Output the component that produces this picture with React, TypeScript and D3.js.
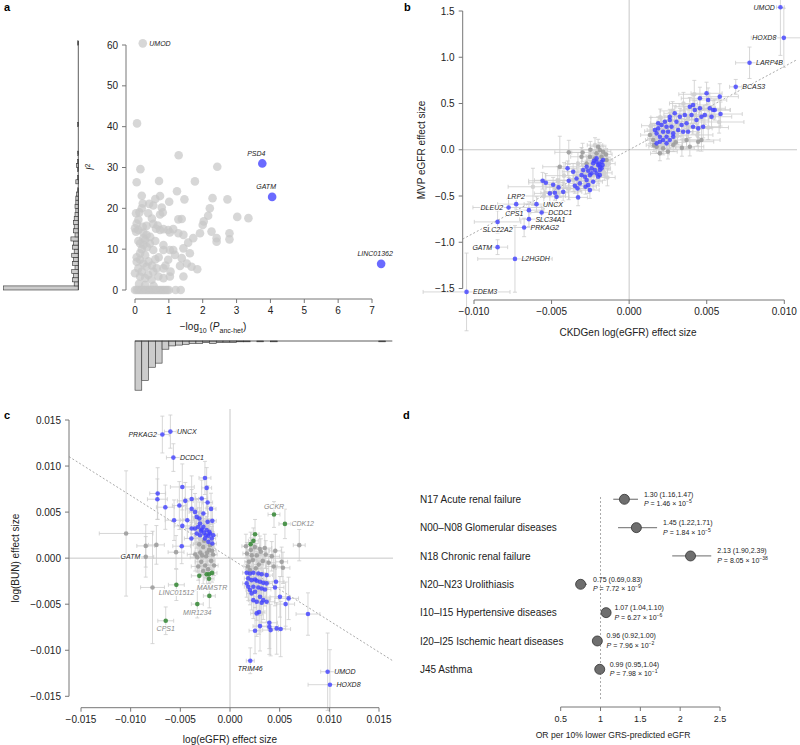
import React, { useEffect } from 'react';
import * as d3 from 'd3';

const FONT = '"Liberation Sans", Arial, Helvetica, sans-serif';
const BLUE = '#4040ff';
const GREEN = '#3d8c3d';
const DGREY = '#9a9a9a';
const LGREY = '#d0d0d0';
const EB = '#cdcdcd';
const AX = '#777';
const TXT = '#222';

// ---------------- Panel a data ----------------
const aGrey: [number, number][] = [
  [0.06,40.8],[1.29,33],[0.16,29.6],[2.43,30.2],[0.05,26.4],[0.71,26.7],[1.77,26.6],[0.2,23.1],[0.74,23],[1.24,24.2],
  [0.6,22.3],[1.46,22.2],[2.29,22.5],[2.73,22.2],[1.01,21.6],[0.23,21.2],[0.42,21.1],[0.54,20.7],[0.79,20.2],[0.2,20.0],
  [0.03,18.8],[0.13,19.0],[0.39,18.8],[0.82,19.0],[0.74,18.5],[2.21,20.0],[2.16,18.2],[3.02,17.9],[3.35,17.6],[2.03,16.8],
  [2.0,15.9],[1.38,17.4],[1.28,17.3],[0.10,17.2],[0.05,16.3],[0.0,15.1],[0.10,14.7],[0.03,14.3],[0.23,15.5],[0.34,15.7],
  [0.54,16.2],[0.67,15.8],[0.62,15.0],[0.74,14.7],[0.84,14.9],[0.98,14.7],[1.13,14.9],[1.03,14.1],[1.28,13.9],[1.43,13.5],
  [1.57,11.6],[1.72,12.7],[1.92,13.9],[2.26,14.3],[2.41,12.7],[2.41,11.8],[2.79,13.9],[2.79,12.4],[0.34,13.5],[0.25,12.7],
  [0.30,12.3],[0.15,11.4],[0.25,11.0],[0.44,11.4],[0.54,9.8],[0.84,11.0],[0.84,9.8],[1.03,9.8],[1.13,9.8],[1.18,8.6],
  [0.98,7.4],[1.43,10.2],[1.62,9.0],[1.38,7.8],[1.53,6.5],[1.67,5.7],[1.84,5.1],[1.33,5.9],[0.05,6.9],[0.15,7.4],
  [0.25,6.5],[0.34,5.7],[0.10,5.3],[0.0,4.1],[0.15,3.3],[0.30,2.9],[0.39,3.7],[0.54,4.5],[0.64,5.3],[0.84,5.3],
  [0.69,3.3],[0.84,2.9],[1.03,3.3],[1.43,3.3],[0.49,2.5],[0.1,12],[0.2,10],[0.3,8.5],[0.15,9],[0.4,7],
  [0.5,6],[0.35,10.5],[0.6,12],[0.45,13],[0.25,14],[0.5,17.5],[0.05,8],[0.2,4.5],[0.7,8],[0.6,7.5],
  [0.9,6],[1.05,4.5],[0.12,1.5],[0.3,1.2],[0.55,1.0],
  [0,0],[0.05,0],[0.1,0],[0.15,0],[0.2,0],[0.25,0],[0.3,0],[0.35,0],[0.4,0],[0.45,0],[0.5,0],[0.55,0],[0.6,0],
  [0.65,0],[0.7,0],[0.75,0],[0.8,0],[0.85,0],[0.9,0],[0.95,0],[1.0,0],[1.2,0],[1.35,0],
];
const aTop: [string, number, number][] = [['UMOD', 0.23, 60.4]];
const aBlue: [string, number, number][] = [['PSD4', 3.76, 31.0], ['GATM', 4.05, 22.8], ['LINC01362', 7.27, 6.4]];
// counts per I² bin of width 1 (0..60)
const aI2Counts: number[] = [
  91,5,7,6,8,4,7,6,8,5,7,6,9,4,6,5,6,5,4,3,4,3,3,2,1,0,3,1,0,1,2,1,0,1,0,0,0,0,0,0,1,
  0,0,0,0,0,0,0,0,0,0,0,0,0,0,0,0,0,0,0,1,
];
// counts per -log10 P bin of width 0.2 (0..7.6)
const aPCounts: number[] = [60,48,32,27,10,6,5,4,3,3,2,3,2,2,2,1,1,0,1,0,1,0,0,0,0,0,0,0,0,0,0,0,0,0,0,0,1,0];
const aXTicks = [0,1,2,3,4,5,6,7];
const aYTicks = [0,10,20,30,40,50,60];

// ---------------- Panel b data: [x, y, xErr, yErr] ----------------
const bBlue: [number, number, number, number][] = [
  [-0.00558,-0.335,0.0009,0.09],[-0.00537,-0.357,0.0011,0.1],[-0.0049,-0.379,0.0007,0.08],[-0.00455,-0.407,0.0008,0.07],
  [-0.00397,-0.201,0.0006,0.08],[-0.00361,-0.238,0.0007,0.09],[-0.00339,-0.31,0.0005,0.07],[-0.00389,-0.335,0.0008,0.1],
  [-0.0035,-0.39,0.0006,0.08],[-0.00333,-0.418,0.0007,0.09],[-0.00511,-0.472,0.001,0.1],[-0.00479,-0.465,0.0009,0.08],
  [-0.00468,-0.509,0.0008,0.09],[-0.00425,-0.455,0.0012,0.1],[-0.00329,-0.515,0.0006,0.09],[-0.00307,-0.274,0.0005,0.07],
  [-0.00296,-0.22,0.0006,0.06],[-0.00274,-0.184,0.0005,0.07],[-0.00242,-0.201,0.0004,0.06],[-0.00232,-0.147,0.0005,0.06],
  [-0.0021,-0.13,0.0004,0.05],[-0.002,-0.166,0.0005,0.06],[-0.00189,-0.184,0.0004,0.07],[-0.00178,-0.13,0.0004,0.05],
  [-0.00168,-0.111,0.0005,0.06],[-0.0021,-0.255,0.0006,0.07],[-0.00253,-0.274,0.0005,0.08],[-0.00274,-0.328,0.0006,0.07],
  [-0.00264,-0.382,0.0007,0.09],[-0.00232,-0.346,0.0006,0.08],[-0.002,-0.292,0.0005,0.07],[-0.00189,-0.274,0.0004,0.06],
  [-0.00221,-0.22,0.0005,0.06],[-0.00242,-0.255,0.0006,0.07],[-0.00264,-0.227,0.0005,0.06],[-0.00285,-0.292,0.0006,0.08],
  [-0.00318,-0.364,0.0007,0.08],[-0.00253,-0.436,0.0006,0.09],[-0.00281,-0.4,0.0007,0.08],[-0.00189,-0.22,0.0005,0.06],
  [-0.00171,-0.166,0.0004,0.06],[-0.0021,-0.093,0.0005,0.05],[-0.00227,-0.119,0.0004,0.06],[-0.00193,-0.155,0.0005,0.05],
  [-0.00178,-0.201,0.0004,0.06],
  [0.00177,0.177,0.0004,0.06],[0.00166,0.213,0.0005,0.07],[0.00187,0.231,0.0004,0.06],[0.00198,0.141,0.0005,0.06],
  [0.00209,0.267,0.0005,0.07],[0.00219,0.195,0.0004,0.06],[0.00241,0.249,0.0005,0.07],[0.00241,0.141,0.0004,0.06],
  [0.00251,0.195,0.0005,0.06],[0.00262,0.321,0.0006,0.08],[0.00273,0.249,0.0005,0.07],[0.00284,0.177,0.0005,0.06],
  [0.00294,0.394,0.0007,0.08],[0.00305,0.303,0.0006,0.07],[0.00316,0.213,0.0005,0.06],[0.00327,0.357,0.0008,0.09],
  [0.00338,0.267,0.0006,0.07],[0.00348,0.195,0.0006,0.07],[0.00359,0.376,0.0007,0.09],[0.0037,0.286,0.0006,0.08],
  [0.0038,0.195,0.0007,0.07],[0.00391,0.465,0.0009,0.1],[0.00402,0.376,0.0008,0.09],[0.00412,0.249,0.0007,0.08],
  [0.00423,0.43,0.0009,0.1],[0.00434,0.321,0.0008,0.09],[0.00445,0.231,0.0009,0.1],[0.00456,0.448,0.001,0.11],
  [0.00466,0.357,0.0009,0.1],[0.00477,0.249,0.0011,0.12],[0.00488,0.376,0.0009,0.1],[0.00499,0.61,0.001,0.12],
  [0.00509,0.538,0.0012,0.13],[0.0052,0.448,0.001,0.11],[0.00531,0.357,0.0013,0.12],[0.00541,0.43,0.0011,0.1],
  [0.00552,0.43,0.001,0.11],[0.00584,0.574,0.0012,0.14],[0.00589,0.386,0.0014,0.13],[0.00456,0.556,0.0012,0.12],
  [0.00412,0.484,0.0009,0.1],[0.00219,0.105,0.0004,0.06],[0.00177,0.069,0.0004,0.05],[0.00198,0.087,0.0005,0.06],
  [0.00241,0.069,0.0004,0.05],[0.00262,0.105,0.0005,0.06],[0.00284,0.141,0.0005,0.06],[0.00187,0.286,0.0005,0.07],
  [0.0023,0.303,0.0005,0.07],[0.00262,0.357,0.0006,0.08],
];
const bGrey: [number, number, number, number][] = [
  [0.00177,0.033,0.0005,0.07],[0.00198,-0.039,0.0006,0.08],[0.00284,0.051,0.0006,0.07],[0.0037,0.105,0.0008,0.09],
  [0.00391,0.033,0.0009,0.1],[0.00445,0.087,0.001,0.1],[0.00466,0.105,0.0012,0.12],[0.00155,0.105,0.0005,0.08],
  [0.00134,0.159,0.0006,0.09],[0.00219,0.015,0.0005,0.07],[0.0025,-0.02,0.0006,0.08],[0.0016,0.05,0.0005,0.07],
  [0.003,0.08,0.0007,0.08],[0.0034,0.02,0.0008,0.09],
  [-0.00389,-0.028,0.0009,0.13],[-0.00447,-0.184,0.0011,0.33],[-0.0021,-0.039,0.0005,0.07],[-0.00189,-0.003,0.0005,0.08],
  [-0.00168,-0.021,0.0005,0.07],[-0.00178,-0.076,0.0004,0.07],[-0.00221,-0.094,0.0005,0.06],[-0.00253,-0.076,0.0006,0.08],
  [-0.00274,-0.148,0.0006,0.09],[-0.00146,-0.111,0.0004,0.07],[-0.00307,-0.076,0.0007,0.1],[-0.002,0.033,0.0005,0.08],
  [-0.0015,-0.05,0.0004,0.06],[-0.0025,0.0,0.0006,0.09],[-0.003,-0.03,0.0007,0.1],
];
// faint background associations (error bars with pale points)
const bCloud: [number, number, number, number][] = [
  [0.0015,0.2,0.0005,0.08],[0.0014,0.26,0.0006,0.09],[0.002,0.35,0.0006,0.09],[0.0028,0.42,0.0008,0.1],
  [0.0035,0.5,0.0009,0.12],[0.0042,0.6,0.001,0.15],[0.0058,0.3,0.0016,0.12],[0.0017,0.12,0.0005,0.07],
  [0.0023,0.22,0.0006,0.08],[0.0031,0.15,0.0007,0.09],[0.0027,0.28,0.0006,0.1],[0.0044,0.16,0.001,0.12],
  [0.0051,0.24,0.0013,0.13],[0.0038,0.33,0.0009,0.11],[0.0021,0.04,0.0005,0.08],
  [-0.0013,-0.15,0.0004,0.07],[-0.0016,-0.25,0.0005,0.08],[-0.0014,-0.3,0.0005,0.09],[-0.0036,-0.33,0.0009,0.12],
  [-0.0042,-0.28,0.0012,0.14],[-0.0046,-0.33,0.0015,0.15],[-0.0055,-0.5,0.0014,0.18],[-0.0062,-0.4,0.0016,0.2],
  [-0.0033,-0.15,0.0008,0.12],[-0.0019,-0.06,0.0005,0.08],[-0.0024,-0.18,0.0006,0.09],[-0.0028,-0.25,0.0007,0.1],
  [-0.0017,-0.2,0.0005,0.08],[-0.0039,-0.42,0.001,0.12],[-0.0022,0.05,0.0005,0.08],
];
const bLabeled: [string, number, number, number, number][] = [
  ['UMOD',0.00975,1.54,0.00025,0.52],['HOXD8',0.00997,1.21,0.0021,0.32],['LARP4B',0.00776,0.94,0.0009,0.17],
  ['BCAS3',0.00687,0.68,0.0004,0.08],['LRP2',-0.00728,-0.588,0.0012,0.1],['DLEU2',-0.00777,-0.624,0.0023,0.09],
  ['UNCX',-0.00597,-0.588,0.0008,0.08],['CPS1',-0.00646,-0.653,0.0009,0.09],['DCDC1',-0.00564,-0.678,0.0007,0.07],
  ['SLC34A1',-0.00646,-0.75,0.0006,0.08],['SLC22A2',-0.00848,-0.78,0.0015,0.12],['PRKAG2',-0.00677,-0.84,0.0009,0.1],
  ['GATM',-0.00848,-1.053,0.00065,0.08],['L2HGDH',-0.00736,-1.18,0.0024,0.36],['EDEM3',-0.01048,-1.537,0.0028,0.42],
];
const bXTicks = [-0.01,-0.005,0,0.005,0.01];
const bYTicks = [-1.5,-1,-0.5,0,0.5,1,1.5];
const bSlope = 90;

// ---------------- Panel c data: [x, y, xErr, yErr] ----------------
const cBlue: [number, number, number, number][] = [
  [-0.00252,0.00871,0.0006,0.0018],[-0.00235,0.00763,0.0005,0.0022],[-0.0048,0.00773,0.0012,0.0025],[-0.00728,0.00702,0.0008,0.0028],
  [-0.00731,0.0064,0.001,0.0022],[-0.00651,0.00553,0.0009,0.0024],[-0.0051,0.00571,0.0007,0.0026],[-0.0045,0.00622,0.0008,0.002],
  [-0.00386,0.00643,0.0007,0.0025],[-0.00285,0.00647,0.0006,0.002],[-0.00225,0.00604,0.0005,0.0018],[-0.00191,0.00535,0.0005,0.0017],
  [-0.00386,0.00535,0.0006,0.0021],[-0.00352,0.00502,0.0006,0.002],[-0.00335,0.00448,0.0005,0.0019],[-0.00309,0.0043,0.0006,0.0018],
  [-0.00268,0.00485,0.0005,0.0016],[-0.00225,0.00394,0.0005,0.0017],[-0.00178,0.00405,0.0004,0.0015],[-0.00563,0.00412,0.0009,0.0022],
  [-0.0048,0.0035,0.0008,0.0021],[-0.0043,0.00412,0.0007,0.002],[-0.00386,0.00322,0.0006,0.0018],[-0.00302,0.00376,0.0005,0.0017],
  [-0.00268,0.0034,0.0005,0.0016],[-0.00235,0.00304,0.0005,0.0015],[-0.00201,0.00268,0.0004,0.0014],[-0.00168,0.00249,0.0004,0.0013],
  [-0.00302,0.00249,0.0006,0.0016],[-0.00252,0.00214,0.0005,0.0015],[-0.00218,0.00177,0.0004,0.0014],[-0.00178,0.00159,0.0004,0.0013],
  [-0.00486,0.0013,0.0009,0.0019],[-0.00389,0.00214,0.0007,0.0017],[-0.00335,0.00268,0.0006,0.0016],[-0.00285,0.00311,0.0005,0.0015],
  [-0.00352,0.00322,0.0006,0.0016],[-0.00319,0.0034,0.0005,0.0016],[-0.00292,0.00296,0.0005,0.0015],[-0.00262,0.00274,0.0005,0.0014],
  [-0.00218,0.00242,0.0004,0.0014],[-0.00184,0.00214,0.0004,0.0013],[-0.00208,0.00285,0.0004,0.0014],[-0.00241,0.00249,0.0005,0.0015],
  [0.00168,-0.00159,0.0004,0.0012],[0.00201,-0.00166,0.0004,0.0013],[0.00235,-0.00159,0.0005,0.0012],[0.00285,-0.00166,0.0005,0.0013],
  [0.00319,-0.00174,0.0005,0.0014],[0.00369,-0.00184,0.0006,0.0015],[0.00184,-0.0022,0.0004,0.0013],[0.00218,-0.00239,0.0004,0.0014],
  [0.00252,-0.00231,0.0005,0.0013],[0.00269,-0.00246,0.0005,0.0014],[0.00302,-0.00257,0.0005,0.0015],[0.00335,-0.00268,0.0006,0.0016],
  [0.00369,-0.00274,0.0006,0.0016],[0.00184,-0.00311,0.0004,0.0015],[0.00235,-0.00311,0.0005,0.0016],[0.00285,-0.00318,0.0005,0.0016],
  [0.00319,-0.00329,0.0006,0.0017],[0.00352,-0.0034,0.0006,0.0018],[0.00218,-0.00383,0.0005,0.0018],[0.00252,-0.00365,0.0005,0.0017],
  [0.00302,-0.0042,0.0006,0.002],[0.00335,-0.00456,0.0007,0.0021],[0.00369,-0.00474,0.0008,0.0022],[0.00463,-0.00257,0.0008,0.0018],
  [0.00453,-0.00318,0.0009,0.002],[0.00503,-0.0042,0.001,0.0022],[0.0056,-0.00499,0.0009,0.0024],[0.0059,-0.00437,0.001,0.0023],
  [0.00235,-0.00456,0.0005,0.002],[0.00269,-0.006,0.0006,0.0025],[0.00292,-0.00586,0.0006,0.0024],[0.00396,-0.00702,0.0008,0.0028],
  [0.00396,-0.00745,0.0009,0.003],[0.00409,-0.00781,0.0008,0.0028],[0.00302,-0.00738,0.0007,0.0027],[0.00252,-0.00788,0.0006,0.0025],
  [0.0047,-0.00763,0.0009,0.0028],[0.0051,-0.0077,0.001,0.003],[0.00785,-0.00607,0.0012,0.0023],[0.00201,-0.00347,0.0004,0.0016],
  [0.00168,-0.00274,0.0004,0.0015],[0.00269,-0.00474,0.0005,0.002],[0.00319,-0.00485,0.0006,0.0021],
];
const cGreen: [number, number, number, number][] = [
  [0.00252,0.0026,0.0004,0.0016],[0.00235,0.00188,0.0005,0.0014],[0.00208,0.00152,0.0004,0.0013],
  [-0.00309,-0.00192,0.0008,0.0012],[-0.00235,-0.00174,0.0006,0.0011],[-0.00211,-0.00174,0.0005,0.001],
  [-0.00181,-0.0016,0.0005,0.001],[-0.00208,-0.0041,0.0006,0.0013],
];
const cGrey: [number, number, number, number][] = [
  [-0.01046,0.00268,0.0027,0.0068],[-0.00848,0.00133,0.0009,0.0023],[-0.00741,0.00144,0.0008,0.0021],[-0.00543,0.00065,0.0008,0.0018],
  [-0.0078,-0.00318,0.0012,0.0061],[0.00697,0.00141,0.0006,0.0017],[0.00456,0.00079,0.0006,0.0018],[0.00533,-0.00105,0.0007,0.0017],
  [0.0052,-0.0004,0.0006,0.0016],
  [-0.0030,0.0006,0.0006,0.0015],[-0.0027,0.0012,0.0005,0.0014],[-0.0024,0.0002,0.0005,0.0013],[-0.0021,0.0009,0.0004,0.0012],
  [-0.0019,-0.0003,0.0004,0.0012],[-0.0017,0.0004,0.0004,0.0011],[-0.0025,-0.0008,0.0005,0.0013],[-0.0029,-0.0004,0.0006,0.0014],
  [-0.0022,-0.0012,0.0005,0.0012],[-0.0033,0.0001,0.0007,0.0016],[-0.0031,0.0015,0.0006,0.0015],[-0.0026,0.0019,0.0005,0.0014],
  [-0.0020,0.0014,0.0004,0.0012],[-0.0023,0.0006,0.0005,0.0013],[-0.0018,0.0008,0.0004,0.0011],[-0.0028,0.0003,0.0006,0.0014],
  [-0.0035,0.0004,0.0008,0.0018],[-0.0016,-0.0008,0.0004,0.0011],[-0.0032,-0.0009,0.0007,0.0015],[-0.0027,-0.0014,0.0006,0.0014],
  [0.0017,0.0005,0.0004,0.0012],[0.0019,-0.0004,0.0004,0.0012],[0.0021,0.0009,0.0004,0.0013],[0.0023,-0.0002,0.0005,0.0012],
  [0.0025,0.0012,0.0005,0.0014],[0.0027,0.0003,0.0005,0.0013],[0.0029,-0.0007,0.0005,0.0013],[0.0031,0.0007,0.0006,0.0014],
  [0.0033,-0.0003,0.0006,0.0014],[0.0036,0.0004,0.0007,0.0015],[0.0039,-0.0005,0.0007,0.0015],[0.0042,0.0002,0.0008,0.0016],
  [0.0018,-0.0009,0.0004,0.0012],[0.0022,0.0003,0.0004,0.0012],[0.0026,-0.0011,0.0005,0.0013],[0.0030,0.0010,0.0006,0.0014],
  [0.0016,0.0013,0.0004,0.0013],[0.0035,0.0011,0.0007,0.0015],[0.0044,-0.0009,0.0008,0.0016],[0.0020,-0.0013,0.0004,0.0012],
];
const cBlueLabeled: [string, number, number, number, number][] = [
  ['PRKAG2',-0.00681,0.01342,0.0007,0.002],['UNCX',-0.006,0.01374,0.0006,0.0018],['DCDC1',-0.0057,0.01092,0.0007,0.0015],
  ['TRIM46',0.00204,-0.01114,0.0004,0.0014],['UMOD',0.00983,-0.01233,0.0007,0.0042],['HOXD8',0.01006,-0.01374,0.0022,0.0038],
];
const cGreenLabeled: [string, number, number, number, number][] = [
  ['GCKR',0.00443,0.00474,0.0006,0.0014],['CDK12',0.00553,0.00372,0.0006,0.0016],['LINC01512',-0.0054,-0.0029,0.0008,0.0017],
  ['MAMSTR',-0.00211,-0.00224,0.0005,0.0012],['MIR1234',-0.00329,-0.00499,0.0006,0.0015],['CPS1',-0.00647,-0.0068,0.0008,0.0015],
];
const cGreyLabeled: [string, number, number, number, number][] = [['GATM',-0.00848,0.00014,0.0008,0.0022]];
const cTicks = [-0.015,-0.01,-0.005,0,0.005,0.01,0.015];
const cSlope = -0.68;

// ---------------- Panel d data ----------------
const dLabels = ['N17 Acute renal failure','N00–N08 Glomerular diseases','N18 Chronic renal failure','N20–N23 Urolithiasis','I10–I15 Hypertensive diseases','I20–I25 Ischemic heart diseases','J45 Asthma'];
const dOR = [1.30,1.45,2.13,0.75,1.07,0.96,0.99];
const dLo = [1.16,1.22,1.90,0.69,1.04,0.92,0.95];
const dHi = [1.47,1.71,2.39,0.83,1.10,1.00,1.04];
const dPMant = ['1.46','1.84','8.05','7.72','6.27','7.96','7.98'];
const dPExp = ['−5','−5','−38','−9','−6','−2','−1'];
const dTicks = [0.5,1,1.5,2,2.5];

// label placement styles
type Side = 'l' | 'r' | 'a' | 'b';
const LABEL_POS: Record<string, { side: Side; dx?: number; dy?: number }> = {
  'a:UMOD': { side: 'r' }, 'a:PSD4': { side: 'a', dx: -6, dy: -2 }, 'a:GATM': { side: 'a', dx: -6, dy: -2 }, 'a:LINC01362': { side: 'a', dx: -6, dy: -2 },
  'b:UMOD': { side: 'l' }, 'b:HOXD8': { side: 'l', dx: -2 }, 'b:LARP4B': { side: 'r' }, 'b:BCAS3': { side: 'r' },
  'b:LRP2': { side: 'a' }, 'b:DLEU2': { side: 'l' }, 'b:UNCX': { side: 'r' }, 'b:CPS1': { side: 'l', dy: 3 },
  'b:DCDC1': { side: 'r' }, 'b:SLC34A1': { side: 'r' }, 'b:SLC22A2': { side: 'b' }, 'b:PRKAG2': { side: 'r' },
  'b:GATM': { side: 'l' }, 'b:L2HGDH': { side: 'r' }, 'b:EDEM3': { side: 'r' },
  'c:PRKAG2': { side: 'l' }, 'c:UNCX': { side: 'r' }, 'c:DCDC1': { side: 'r' }, 'c:TRIM46': { side: 'b' },
  'c:UMOD': { side: 'r' }, 'c:HOXD8': { side: 'r' }, 'c:GCKR': { side: 'a' }, 'c:CDK12': { side: 'r' },
  'c:LINC01512': { side: 'b' }, 'c:MAMSTR': { side: 'b', dx: 3, dy: 1 }, 'c:MIR1234': { side: 'b' }, 'c:CPS1': { side: 'b' },
  'c:GATM': { side: 'l' },
};

function GeneLabel({ k, name, px, py, color }: { k: string; name: string; px: number; py: number; color: string }) {
  const pos = LABEL_POS[k] || { side: 'r' };
  let x = px, y = py + 2.5, anchor: 'start' | 'end' | 'middle' = 'start';
  if (pos.side === 'r') { x = px + 6.5; }
  if (pos.side === 'l') { x = px - 5.5; anchor = 'end'; }
  if (pos.side === 'a') { y = py - 5.5; anchor = 'middle'; }
  if (pos.side === 'b') { y = py + 10.5; anchor = 'middle'; }
  x += pos.dx || 0; y += pos.dy || 0;
  return (
    <text x={x} y={y} textAnchor={anchor} fontSize={7} fontStyle="italic" fill={color}
      stroke="#fff" strokeWidth={2} strokeLinejoin="round" style={{ paintOrder: 'stroke' }}>{name}</text>
  );
}

function ErrBar({ p, sx, sy }: { p: number[]; sx: (v: number) => number; sy: (v: number) => number }) {
  const [x, y, xe, ye] = p;
  const cx = sx(x), cy = sy(y);
  const x0 = sx(x - xe), x1 = sx(x + xe), y0 = sy(y - ye), y1 = sy(y + ye);
  const c = 2;
  return (
    <g>
      <line x1={x0} x2={x1} y1={cy} y2={cy} />
      <line x1={x0} x2={x0} y1={cy - c} y2={cy + c} />
      <line x1={x1} x2={x1} y1={cy - c} y2={cy + c} />
      <line x1={cx} x2={cx} y1={y0} y2={y1} />
      <line x1={cx - c} x2={cx + c} y1={y0} y2={y0} />
      <line x1={cx - c} x2={cx + c} y1={y1} y2={y1} />
    </g>
  );
}

function YAxis({ x, scale, ticks, fmt }: { x: number; scale: d3.ScaleLinear<number, number>; ticks: number[]; fmt: (v: number) => string }) {
  const ys = ticks.map((t) => scale(t));
  return (
    <g>
      <line x1={x} x2={x} y1={Math.min(...ys)} y2={Math.max(...ys)} stroke={AX} />
      {ticks.map((t) => (
        <g key={t}>
          <line x1={x - 4} x2={x} y1={scale(t)} y2={scale(t)} stroke={AX} />
          <text x={x - 8} y={scale(t) + 3.6} textAnchor="end" fontSize={10} fill={TXT}>{fmt(t)}</text>
        </g>
      ))}
    </g>
  );
}

function XAxis({ y, scale, ticks, fmt, fs = 10 }: { y: number; scale: d3.ScaleLinear<number, number>; ticks: number[]; fmt: (v: number) => string; fs?: number }) {
  const xs = ticks.map((t) => scale(t));
  return (
    <g>
      <line y1={y} y2={y} x1={Math.min(...xs)} x2={Math.max(...xs)} stroke={AX} />
      {ticks.map((t) => (
        <g key={t}>
          <line y1={y} y2={y + 4} x1={scale(t)} x2={scale(t)} stroke={AX} />
          <text x={scale(t)} y={y + 15} textAnchor="middle" fontSize={fs} fill={TXT}>{fmt(t)}</text>
        </g>
      ))}
    </g>
  );
}

function PanelA() {
  const sx = d3.scaleLinear().domain([0, 7]).range([135, 372]);
  const sy = d3.scaleLinear().domain([0, 60]).range([290, 45]);
  const k = 0.82;
  const histX = 78.3;
  const histY = 341;
  const pBin = 0.2;
  return (
    <g>
      <text x={4} y={11} fontSize={11} fontWeight="bold" fill="#000">a</text>
      {aI2Counts.map((c, i) => c > 0 ? (
        <rect key={i} x={histX - c * k} y={sy(i + 1)} width={c * k} height={sy(i) - sy(i + 1)}
          fill="#cccccc" stroke="#333" strokeWidth={0.6} />
      ) : null)}
      <line x1={histX} x2={histX} y1={sy(0)} y2={sy(61)} stroke="#333" strokeWidth={0.8} />
      {aPCounts.map((c, i) => c > 0 ? (
        <rect key={i} x={sx(i * pBin)} y={histY} width={sx((i + 1) * pBin) - sx(i * pBin)} height={c * k}
          fill="#cccccc" stroke="#333" strokeWidth={0.6} />
      ) : null)}
      <line x1={sx(0)} x2={sx(aPCounts.length * pBin)} y1={histY} y2={histY} stroke="#333" strokeWidth={0.8} />
      <YAxis x={126} scale={sy} ticks={aYTicks} fmt={(v) => String(v)} />
      <XAxis y={299} scale={sx} ticks={aXTicks} fmt={(v) => String(v)} />
      <text transform={`translate(${93.6},${167}) rotate(-90)`} textAnchor="middle" fontSize={10} fill={TXT}>
        <tspan fontStyle="italic">I</tspan><tspan fontSize={7} dy={-4}>2</tspan>
      </text>
      <text x={213} y={330} textAnchor="middle" fontSize={10} fill={TXT}>
        <tspan>−log</tspan><tspan fontSize={7} dy={3}>10</tspan><tspan dy={-3}> (</tspan><tspan fontStyle="italic">P</tspan>
        <tspan fontSize={7} dy={3}>anc-het</tspan><tspan dy={-3}>)</tspan>
      </text>
      {aGrey.map((p, i) => (
        <circle key={i} cx={sx(p[0])} cy={sy(p[1])} r={4.3} fill="#c8c8c8" fillOpacity={0.72} />
      ))}
      {aTop.map(([n, x, y]) => (
        <g key={n}>
          <circle cx={sx(x)} cy={sy(y)} r={4.3} fill="#c8c8c8" fillOpacity={0.72} />
          <GeneLabel k={'a:' + n} name={n} px={sx(x)} py={sy(y)} color={TXT} />
        </g>
      ))}
      {aBlue.map(([n, x, y]) => (
        <g key={n}>
          <circle cx={sx(x)} cy={sy(y)} r={4.3} fill="#6a6aff" />
          <GeneLabel k={'a:' + n} name={n} px={sx(x)} py={sy(y)} color={TXT} />
        </g>
      ))}
    </g>
  );
}

function PanelB() {
  const sx = d3.scaleLinear().domain([-0.01, 0.01]).range([474, 784.3]);
  const sy = d3.scaleLinear().domain([-1.5, 1.5]).range([288.5, 11]);
  const fx = d3.format('.3f');
  const fy = d3.format('.1f');
  const lx0 = sx.invert(462.7), lx1 = sx.invert(797);
  return (
    <g>
      <text x={404} y={11} fontSize={11} fontWeight="bold" fill="#000">b</text>
      <line x1={sx(0)} x2={sx(0)} y1={0} y2={300} stroke="#c8c8c8" />
      <line x1={462.7} x2={797} y1={sy(0)} y2={sy(0)} stroke="#c8c8c8" />
      <line x1={sx(lx0)} y1={sy(lx0 * bSlope)} x2={sx(lx1)} y2={sy(lx1 * bSlope)} stroke="#aaa" strokeDasharray="2,2" />
      <g stroke={EB} strokeWidth={0.8}>
        {[...bCloud, ...bGrey, ...bBlue].map((p, i) => <ErrBar key={i} p={p} sx={sx} sy={sy} />)}
        {bLabeled.map((p, i) => <ErrBar key={'l' + i} p={p.slice(1) as number[]} sx={sx} sy={sy} />)}
      </g>
      {bCloud.map((p, i) => <circle key={i} cx={sx(p[0])} cy={sy(p[1])} r={2.3} fill={LGREY} fillOpacity={0.9} />)}
      {bGrey.map((p, i) => <circle key={i} cx={sx(p[0])} cy={sy(p[1])} r={2.3} fill={DGREY} fillOpacity={0.85} />)}
      {bBlue.map((p, i) => <circle key={i} cx={sx(p[0])} cy={sy(p[1])} r={2.3} fill={BLUE} fillOpacity={0.8} />)}
      {bLabeled.map(([n, x, y]) => <circle key={n} cx={sx(x)} cy={sy(y)} r={2.3} fill={BLUE} fillOpacity={0.8} />)}
      {bLabeled.map(([n, x, y]) => <GeneLabel key={n} k={'b:' + n} name={n} px={sx(x)} py={sy(y)} color={TXT} />)}
      <YAxis x={462.7} scale={sy} ticks={bYTicks} fmt={fy} />
      <XAxis y={300} scale={sx} ticks={bXTicks} fmt={fx} />
      <text transform={`translate(${425.3},${150}) rotate(-90)`} textAnchor="middle" fontSize={10} fill={TXT}>MVP eGFR effect size</text>
      <text x={628} y={336.3} textAnchor="middle" fontSize={10} fill={TXT}>CKDGen log(eGFR) effect size</text>
    </g>
  );
}

function PanelC() {
  const sx = d3.scaleLinear().domain([-0.015, 0.015]).range([81, 379]);
  const sy = d3.scaleLinear().domain([-0.015, 0.015]).range([696.3, 420]);
  const f = d3.format('.3f');
  const lx0 = sx.invert(69), lx1 = sx.invert(393);
  return (
    <g>
      <text x={4} y={419} fontSize={11} fontWeight="bold" fill="#000">c</text>
      <line x1={sx(0)} x2={sx(0)} y1={409} y2={707.7} stroke="#c8c8c8" />
      <line x1={69} x2={393} y1={sy(0)} y2={sy(0)} stroke="#c8c8c8" />
      <line x1={sx(lx0)} y1={sy(lx0 * cSlope)} x2={sx(lx1)} y2={sy(lx1 * cSlope)} stroke="#aaa" strokeDasharray="2,2" />
      <g stroke={EB} strokeWidth={0.8}>
        {[...cGrey, ...cGreen, ...cBlue].map((p, i) => <ErrBar key={i} p={p} sx={sx} sy={sy} />)}
        {[...cGreyLabeled, ...cGreenLabeled, ...cBlueLabeled].map((p, i) => <ErrBar key={'l' + i} p={p.slice(1) as number[]} sx={sx} sy={sy} />)}
      </g>
      {[...cGrey, ...cGreyLabeled.map((p) => p.slice(1) as number[])].map((p, i) => (
        <circle key={i} cx={sx(p[0])} cy={sy(p[1])} r={2.3} fill={DGREY} fillOpacity={0.85} />
      ))}
      {[...cGreen, ...cGreenLabeled.map((p) => p.slice(1) as number[])].map((p, i) => (
        <circle key={i} cx={sx(p[0])} cy={sy(p[1])} r={2.3} fill={GREEN} fillOpacity={0.9} />
      ))}
      {[...cBlue, ...cBlueLabeled.map((p) => p.slice(1) as number[])].map((p, i) => (
        <circle key={i} cx={sx(p[0])} cy={sy(p[1])} r={2.3} fill={BLUE} fillOpacity={0.8} />
      ))}
      {cGreyLabeled.map(([n, x, y]) => <GeneLabel key={n} k={'c:' + n} name={n} px={sx(x)} py={sy(y)} color={TXT} />)}
      {cBlueLabeled.map(([n, x, y]) => <GeneLabel key={n} k={'c:' + n} name={n} px={sx(x)} py={sy(y)} color={TXT} />)}
      {cGreenLabeled.map(([n, x, y]) => <GeneLabel key={n} k={'c:' + n} name={n} px={sx(x)} py={sy(y)} color="#888" />)}
      <YAxis x={69} scale={sy} ticks={cTicks} fmt={f} />
      <XAxis y={707.7} scale={sx} ticks={cTicks} fmt={f} />
      <text transform={`translate(${18.6},${558}) rotate(-90)`} textAnchor="middle" fontSize={10} fill={TXT}>log(BUN) effect size</text>
      <text x={230} y={742.6} textAnchor="middle" fontSize={10} fill={TXT}>log(eGFR) effect size</text>
    </g>
  );
}

function PanelD() {
  const sx = d3.scaleLinear().domain([0.5, 2.5]).range([560.7, 720]);
  const sy = d3.scalePoint<string>().domain(dLabels).range([499.3, 669.3]);
  const fmt = d3.format('~g');
  return (
    <g>
      <text x={403} y={419} fontSize={11} fontWeight="bold" fill="#000">d</text>
      <line x1={sx(1)} x2={sx(1)} y1={497} y2={700} stroke="#aaa" strokeDasharray="2,2" />
      {dLabels.map((lab, i) => {
        const y = sy(lab) as number;
        const tx = Math.max(sx(dHi[i]) + 6, sx(dOR[i]) + 3);
        return (
          <g key={lab}>
            <text x={420} y={y + 3.6} fontSize={10} fill={TXT}>{lab}</text>
            <line x1={sx(dLo[i])} x2={sx(dHi[i])} y1={y} y2={y} stroke="#888" strokeWidth={1.3} />
            <circle cx={sx(dOR[i])} cy={y} r={5} fill="#6e6e6e" stroke="#333" strokeWidth={0.8} />
            <text x={tx} y={y - 2.5} fontSize={7} fill={TXT}>
              {`${dOR[i].toFixed(2)} (${dLo[i].toFixed(2)},${dHi[i].toFixed(2)})`}
            </text>
            <text x={tx} y={y + 7} fontSize={7} fill={TXT}>
              <tspan fontStyle="italic">P</tspan><tspan>{` = ${dPMant[i]} × 10`}</tspan>
              <tspan fontSize={5} dy={-3}>{dPExp[i]}</tspan>
            </text>
          </g>
        );
      })}
      <XAxis y={707} scale={sx} ticks={dTicks} fmt={fmt} fs={9} />
      <text x={613} y={738} textAnchor="middle" fontSize={8.6} fill={TXT}>OR per 10% lower GRS-predicted eGFR</text>
    </g>
  );
}

export default function App() {
  useEffect(() => {
    document.body.style.margin = '0';
  }, []);
  return (
    <svg width={800} height={745} style={{ position: 'absolute', left: 0, top: 0, display: 'block', background: '#fff', fontFamily: FONT }}>
      <rect x={0} y={0} width={800} height={745} fill="#fff" />
      <PanelA />
      <PanelB />
      <PanelC />
      <PanelD />
    </svg>
  );
}
